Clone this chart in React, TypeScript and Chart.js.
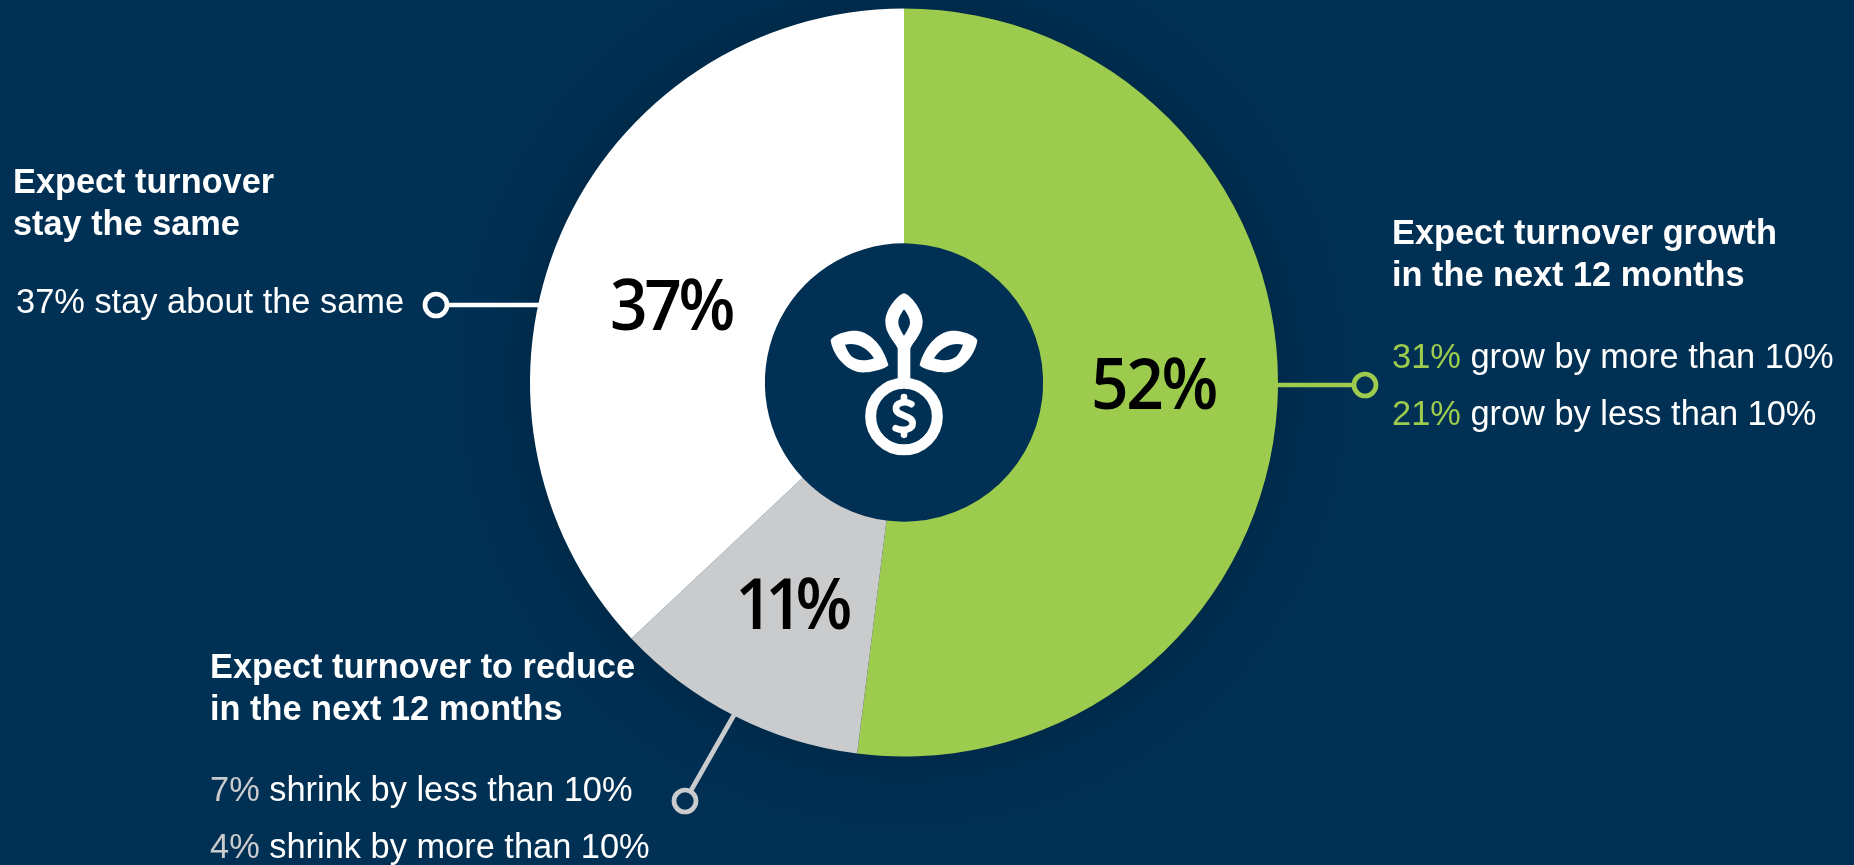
import React, { useEffect, useRef } from "react";
import { Chart, registerables } from "chart.js";

Chart.register(...registerables);

const categories = ["Expect growth", "Expect to reduce", "Expect the same"];
const shares = [52, 11, 37];
const sliceColors = ["#9CCB4D", "#CACBCD", "#FFFFFF"];

const growthBreakdown = [31, 21];
const growthPhrases = ["grow by more than 10%", "grow by less than 10%"];
const reduceBreakdown = [7, 4];
const reducePhrases = ["shrink by less than 10%", "shrink by more than 10%"];
const samePhrase = "stay about the same";

const growthHeading = ["Expect turnover growth", "in the next 12 months"];
const reduceHeading = ["Expect turnover to reduce", "in the next 12 months"];
const sameHeading = ["Expect turnover", "stay the same"];

const NAVY = "#003054";
const GREEN = "#9CCB4D";
const GREY = "#CACBCD";
const WHITE = "#FFFFFF";
const WIDTH = 1854;
const HEIGHT = 865;
const SANS = '"Liberation Sans", Arial, sans-serif';
const SHARE_FONT = '600 70px "Open Sans", sans-serif';
const SHARE_SQUEEZE = 0.94;

// Where the big percentages sit, in slice order, with their tracking.
const shareAnchors = [
  { x: 1153.5, y: 409, tracking: -2.5 },
  { x: 790, y: 629, tracking: -8 },
  { x: 671, y: 330, tracking: -3.5 },
];

function heading(ctx: CanvasRenderingContext2D, lines: string[], x: number, y: number) {
  ctx.font = `bold 34.3px ${SANS}`;
  ctx.fillStyle = WHITE;
  ctx.textAlign = "left";
  ctx.textBaseline = "alphabetic";
  lines.forEach((line, i) => ctx.fillText(line, x, y + i * 42));
}

function detail(
  ctx: CanvasRenderingContext2D,
  share: number,
  phrase: string,
  color: string,
  x: number,
  y: number,
) {
  ctx.font = `34.4px ${SANS}`;
  ctx.textAlign = "left";
  ctx.textBaseline = "alphabetic";
  const lead = `${share}%`;
  ctx.fillStyle = color;
  ctx.fillText(lead, x, y);
  ctx.fillStyle = WHITE;
  ctx.fillText(` ${phrase}`, x + ctx.measureText(lead).width, y);
}

function leader(
  ctx: CanvasRenderingContext2D,
  color: string,
  fromX: number,
  fromY: number,
  toX: number,
  toY: number,
) {
  ctx.strokeStyle = color;
  ctx.lineWidth = 4.7;
  ctx.beginPath();
  ctx.moveTo(fromX, fromY);
  ctx.lineTo(toX, toY);
  ctx.stroke();
  ctx.fillStyle = NAVY;
  ctx.beginPath();
  ctx.arc(toX, toY, 11, 0, Math.PI * 2);
  ctx.fill();
  ctx.stroke();
}

// Seedling growing out of a dollar coin, drawn in the hole of the ring.
function drawIcon(ctx: CanvasRenderingContext2D, cx: number, cy: number) {
  const s = 1 / 3;
  ctx.save();
  ctx.translate(cx, cy);
  ctx.scale(s, s);
  ctx.translate(-492, -398);
  ctx.fillStyle = WHITE;
  ctx.strokeStyle = WHITE;
  ctx.lineCap = "round";
  ctx.lineJoin = "round";

  const top = new Path2D(
    "M492 130 C505 130 548 175 548 215 C548 250 525 270 511 295 L473 295 C459 270 436 250 436 215 C436 175 479 130 492 130 Z " +
      "M492 178 C505 195 510 207 510 218 C510 230 500 245 492 258 C484 245 475 230 475 218 C475 207 480 195 492 178 Z",
  );
  ctx.fill(top, "evenodd");

  const leaf = new Path2D(
    "M272 272 C275 258 320 240 350 243 C395 248 432 295 445 345 C447 352 405 368 370 368 C320 368 278 315 272 272 Z " +
      "M315 285 C340 278 375 285 402 325 C375 335 350 332 335 320 C325 310 320 298 315 285 Z",
  );
  ctx.fill(leaf, "evenodd");
  ctx.save();
  ctx.translate(984, 0);
  ctx.scale(-1, 1);
  ctx.fill(leaf, "evenodd");
  ctx.restore();

  ctx.fillRect(473, 290, 38, 100);

  ctx.lineWidth = 33;
  ctx.beginPath();
  ctx.arc(492, 500, 100, 0, Math.PI * 2);
  ctx.stroke();

  ctx.lineWidth = 20;
  ctx.beginPath();
  ctx.moveTo(514, 463);
  ctx.bezierCurveTo(495, 452, 466, 458, 468, 478);
  ctx.bezierCurveTo(470, 500, 518, 495, 518, 520);
  ctx.bezierCurveTo(518, 540, 488, 545, 467, 535);
  ctx.stroke();
  ctx.beginPath();
  ctx.moveTo(492, 442);
  ctx.lineTo(492, 452);
  ctx.moveTo(492, 546);
  ctx.lineTo(492, 555);
  ctx.stroke();
  ctx.restore();
}

const ringBackdrop = {
  id: "ringBackdrop",
  beforeDatasetsDraw(chart: Chart) {
    const ctx = chart.ctx;
    const arc = chart.getDatasetMeta(0).data[0] as any;
    ctx.save();
    ctx.shadowColor = "rgba(0,0,0,0.25)";
    ctx.shadowBlur = 70;
    ctx.fillStyle = NAVY;
    ctx.beginPath();
    ctx.arc(arc.x, arc.y, arc.outerRadius - 1, 0, Math.PI * 2);
    ctx.fill();
    ctx.restore();
  },
};

const annotations = {
  id: "annotations",
  afterDatasetsDraw(chart: Chart) {
    const ctx = chart.ctx;
    const arc = chart.getDatasetMeta(0).data[0] as any;
    ctx.save();

    leader(ctx, GREEN, 1276, 385, 1365, 385);
    leader(ctx, WHITE, 540, 305, 436, 305);
    leader(ctx, GREY, 734, 715, 685, 801);

    ctx.font = SHARE_FONT;
    ctx.fillStyle = "#000000";
    ctx.textAlign = "center";
    ctx.textBaseline = "alphabetic";
    shares.forEach((value, i) => {
      const a = shareAnchors[i];
      ctx.save();
      ctx.translate(a.x, a.y);
      ctx.scale(SHARE_SQUEEZE, 1);
      ctx.letterSpacing = `${a.tracking}px`;
      ctx.fillText(`${value}%`, 0, 0);
      ctx.restore();
    });

    heading(ctx, growthHeading, 1392, 244);
    growthBreakdown.forEach((v, i) => detail(ctx, v, growthPhrases[i], GREEN, 1392, 367.5 + i * 57.5));

    heading(ctx, sameHeading, 13, 192.5);
    detail(ctx, shares[2], samePhrase, WHITE, 16, 313);

    heading(ctx, reduceHeading, 210, 678);
    reduceBreakdown.forEach((v, i) => detail(ctx, v, reducePhrases[i], GREY, 210, 801 + i * 57));

    drawIcon(ctx, arc.x, arc.y);
    ctx.restore();
  },
};

export default function App() {
  const canvasRef = useRef<HTMLCanvasElement>(null);

  useEffect(() => {
    if (!canvasRef.current) return;
    const chart = new Chart(canvasRef.current, {
      type: "doughnut",
      data: {
        labels: categories,
        datasets: [{ data: shares, backgroundColor: sliceColors, borderWidth: 0 }],
      },
      options: {
        responsive: false,
        animation: false,
        cutout: "37.2%",
        layout: { padding: { left: 530, right: 576, top: 8.5, bottom: 108.5 } },
        plugins: { legend: { display: false }, tooltip: { enabled: false } },
      },
      plugins: [ringBackdrop, annotations],
    });
    return () => chart.destroy();
  }, []);

  return (
    <div style={{ position: "fixed", left: 0, top: 0, width: WIDTH, height: HEIGHT, background: NAVY }}>
      <canvas ref={canvasRef} width={WIDTH} height={HEIGHT} style={{ display: "block" }} />
    </div>
  );
}
